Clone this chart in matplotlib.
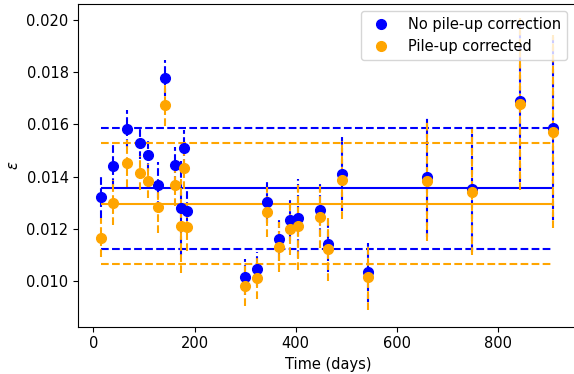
import numpy as np
import matplotlib
matplotlib.use('Agg')
import matplotlib.pyplot as plt

# observation times (days)
days = [15, 38, 67, 92, 108, 127, 141, 161, 174, 180, 185,
        300, 323, 343, 367, 389, 404, 447, 463, 491, 542,
        659, 749, 844, 909]

# no pile-up correction
eps_raw = [0.01323, 0.01442, 0.01584, 0.01528, 0.01483, 0.01367, 0.01778, 0.01443,
           0.01279, 0.01508, 0.01269, 0.01015, 0.01046, 0.01302, 0.01162, 0.01233,
           0.01240, 0.01272, 0.01141, 0.01410, 0.01033, 0.01400, 0.01351, 0.01690,
           0.01585]
err_raw = [0.0008, 0.0008, 0.0007, 0.0006, 0.0006, 0.0009, 0.0007, 0.0007,
           0.0018, 0.0007, 0.0008, 0.0007, 0.00066, 0.0008, 0.00084, 0.00078,
           0.0015, 0.0010, 0.00106, 0.0014, 0.00113, 0.0023, 0.0024, 0.0031,
           0.0035]

# pile-up corrected
eps_cor = [0.01166, 0.01300, 0.01451, 0.01413, 0.01383, 0.01282, 0.01674, 0.01367,
           0.01212, 0.01433, 0.01206, 0.00981, 0.01013, 0.01264, 0.01131, 0.01200,
           0.01211, 0.01245, 0.01121, 0.01386, 0.01015, 0.01383, 0.01341, 0.01678,
           0.01572]
err_cor = [0.00075, 0.00085, 0.0009, 0.00065, 0.00065, 0.0010, 0.0008, 0.0008,
           0.0018, 0.0008, 0.0009, 0.00077, 0.00083, 0.00096, 0.00096, 0.0010,
           0.0017, 0.0012, 0.0012, 0.0015, 0.00126, 0.0023, 0.0024, 0.0033,
           0.0037]

# mean and spread bands
mean_raw, spread_raw = 0.013545, 0.002305
mean_cor, spread_cor = 0.01296, 0.00232

plt.rcParams['font.size'] = 10.5

fig = plt.figure(figsize=(5.74, 3.74), dpi=100)
ax = fig.add_axes([0.1364, 0.1265, 0.872, 0.8628])

x = np.array(days)
series = [(eps_raw, err_raw, mean_raw, spread_raw, 'blue', 'No pile-up correction'),
          (eps_cor, err_cor, mean_cor, spread_cor, 'orange', 'Pile-up corrected')]

for k, (y, e, m, s, c, lab) in enumerate(series):
    y = np.array(y)
    e = np.array(e)
    ax.vlines(x, y - e, y + e, colors=c, linestyles='--', lw=1.5, zorder=2 + k)
    ax.hlines(m, x[0], x[-1], colors=c, lw=1.5, zorder=2 + k)
    ax.hlines([m - s, m + s], x[0], x[-1], colors=c, linestyles='--', lw=1.5, zorder=2 + k)
    ax.plot(x, y, 'o', color=c, ms=7, label=lab, zorder=5 + k)

ax.set_xlim(-29.7, 959.5)
ax.set_ylim(0.00825, 0.02061)
ax.set_xticks([0, 200, 400, 600, 800])
ax.set_yticks([0.010, 0.012, 0.014, 0.016, 0.018, 0.020])
ax.set_xlabel('Time (days)')
ax.set_ylabel(r'$\varepsilon$')
ax.legend(loc='upper right', bbox_to_anchor=(0.99, 1.0))

fig.savefig('out.png', dpi=100)
